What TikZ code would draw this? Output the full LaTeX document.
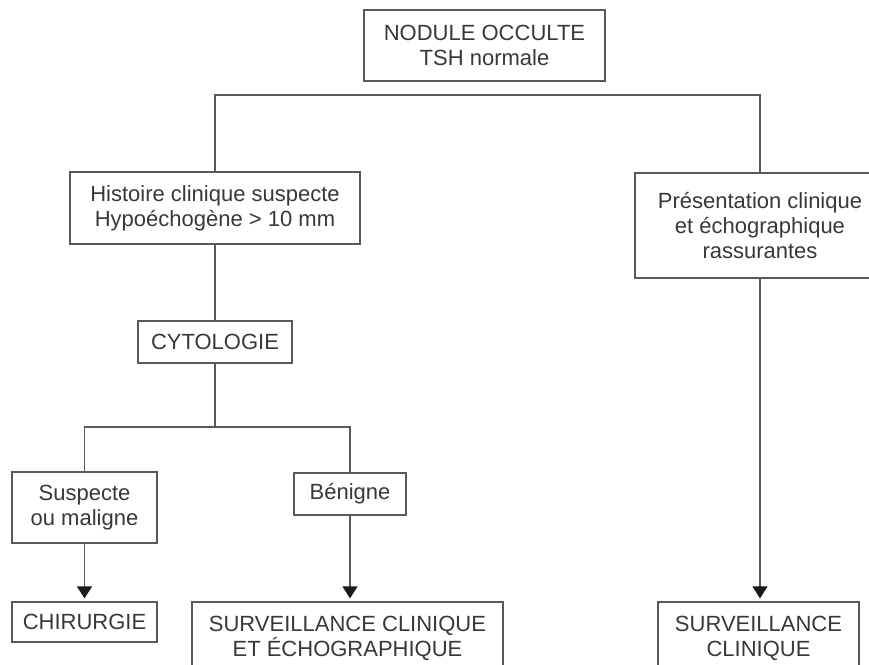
\documentclass[tikz,border=0pt]{standalone}
\usepackage{fontspec}
\setmainfont{Liberation Sans}
\usetikzlibrary{arrows.meta,calc}
\begin{document}
\begin{tikzpicture}[x=1pt,y=-1pt,
  every node/.style={font=\fontsize{22}{25}\selectfont, text=black!80},
  box/.style={draw=black!65, line width=1.3pt, align=center, inner sep=0pt, text=black!78},
  link/.style={draw=black!65, line width=1.3pt},
  arr/.style={link, -{Triangle[width=15pt,length=12pt,fill=black!90,color=black!90]}, shorten >=3pt}]
\useasboundingbox (0,0) rectangle (869,664);
\clip (0,0) rectangle (869,664);
\fill[white] (0,0) rectangle (869,664);
\node[box, minimum width=241pt, minimum height=71pt] (top) at (484.5,45.5) {NODULE OCCULTE\\TSH normale};
\node[box, minimum width=290pt, minimum height=72pt] (hist) at (215,208) {Histoire clinique suspecte\\Hypoéchogène > 10 mm};
\node[box, minimum width=250pt, minimum height=105pt] (pres) at (760,225.5) {Présentation clinique\\et échographique\\rassurantes};
\node[box, minimum width=154pt, minimum height=42pt] (cyto) at (215,342) {CYTOLOGIE};
\node[box, minimum width=145pt, minimum height=71pt] (susp) at (84.5,507.5) {Suspecte\\ou maligne};
\node[box, minimum width=112pt, minimum height=42pt] (ben) at (350,494) {Bénigne};
\node[box, minimum width=145pt, minimum height=40pt] (chir) at (84.5,622) {CHIRURGIE};
\node[box, minimum width=311pt, minimum height=72pt] (surv1) at (347.5,638) {SURVEILLANCE CLINIQUE\\ET ÉCHOGRAPHIQUE};
\node[box, minimum width=201pt, minimum height=72pt] (surv2) at (758.5,638) {SURVEILLANCE\\CLINIQUE};
\coordinate (j1) at (484.5,95);
\coordinate (j2) at (215,427);
\draw[link] (hist.north) |- (j1) -| (pres.north);
\draw[link] (hist.south) -- (cyto.north);
\draw[link] (cyto.south) -- (j2);
\draw[link] (susp.north) |- (j2) -| (ben.north);
\draw[arr] (susp.south) -- (chir.north);
\draw[arr] (ben.south) -- (ben.south |- surv1.north);
\draw[arr] (pres.south) -- (pres.south |- surv2.north);
\end{tikzpicture}
\end{document}
